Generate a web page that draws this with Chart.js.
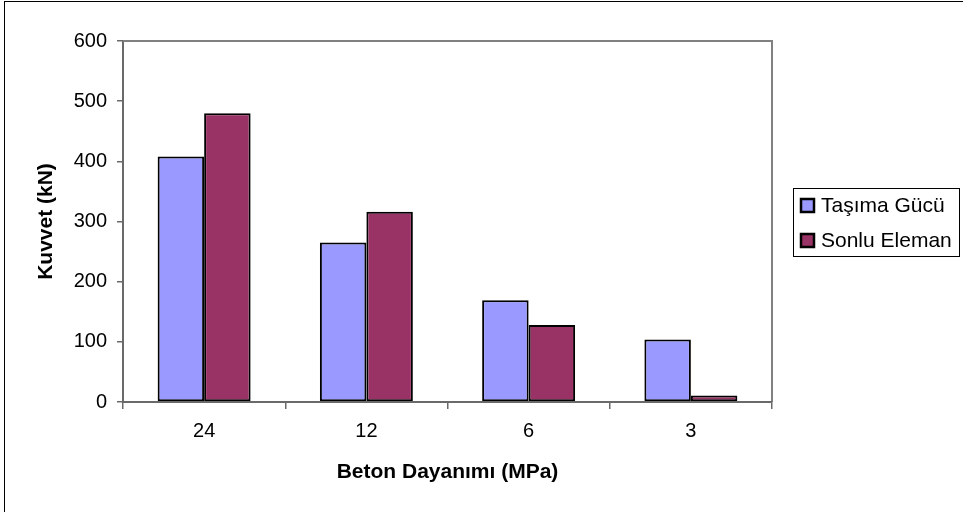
<!DOCTYPE html>
<html>
<head>
<meta charset="utf-8">
<script src="https://cdn.jsdelivr.net/npm/chart.js@4.4.1/dist/chart.umd.min.js"></script>
<style>
  html, body { margin: 0; padding: 0; background: #fff; }
  #wrap { position: relative; width: 963px; height: 512px; overflow: hidden; }
  #frame { position: absolute; left: 4px; top: 1px; width: 1200px; height: 800px; border: 1px solid #000; box-sizing: border-box; }
  #chart { position: absolute; left: 0; top: 0; }
</style>
</head>
<body>
<div id="wrap">
  <div id="frame"></div>
  <canvas id="chart" width="963" height="512"></canvas>
</div>
<script>
// data
const categories = ['24', '12', '6', '3'];
const seriesNames = ['Taşıma Gücü', 'Sonlu Eleman'];
const tasimaGucu = [408, 265, 169, 104];
const sonluEleman = [480, 316, 128, 11];
const yTicks = [0, 100, 200, 300, 400, 500, 600];

const FONT = 'Arial, "Liberation Sans", sans-serif';
const AXIS_GRAY = '#6a6a6a';

// gray top/right edge of the plot area, like the Excel original
const plotFrame = {
  id: 'plotFrame',
  beforeDatasetsDraw(chart) {
    const { ctx, chartArea: a } = chart;
    ctx.save();
    ctx.strokeStyle = '#808080';
    ctx.lineWidth = 2;
    ctx.beginPath();
    ctx.moveTo(a.left, a.top);
    ctx.lineTo(a.right, a.top);
    ctx.lineTo(a.right, a.bottom);
    ctx.stroke();
    ctx.restore();
  }
};

// boxed legend on the right
const boxLegend = {
  id: 'boxLegend',
  afterDraw(chart) {
    const { ctx } = chart;
    const x = 793, y = 188, w = 166, h = 68;
    ctx.save();
    ctx.fillStyle = '#fff';
    ctx.fillRect(x, y, w, h);
    ctx.strokeStyle = '#000';
    ctx.lineWidth = 1;
    ctx.strokeRect(x + 0.5, y + 0.5, w, h);
    chart.data.datasets.forEach((ds, i) => {
      const cy = y + 18 + i * 35;
      ctx.fillStyle = ds.backgroundColor;
      ctx.fillRect(801, cy - 7, 13, 13);
      ctx.lineWidth = 2.5;
      ctx.strokeStyle = '#000';
      ctx.strokeRect(801, cy - 7, 13, 13);
      ctx.fillStyle = '#000';
      ctx.font = '21px ' + FONT;
      ctx.textBaseline = 'middle';
      ctx.fillText(ds.label, 821, cy);
    });
    ctx.restore();
  }
};

new Chart(document.getElementById('chart'), {
  type: 'bar',
  data: {
    labels: categories,
    datasets: [
      { label: seriesNames[0], data: tasimaGucu, backgroundColor: '#9999FF', borderColor: '#000', borderWidth: 2, borderSkipped: false },
      { label: seriesNames[1], data: sonluEleman, backgroundColor: '#993366', borderColor: '#000', borderWidth: 2, borderSkipped: false }
    ]
  },
  options: {
    responsive: false,
    animation: false,
    devicePixelRatio: 1,
    layout: { padding: { top: 41, right: 191, left: 0, bottom: 0 } },
    datasets: {
      bar: { categoryPercentage: 0.573, barPercentage: 1 }
    },
    plugins: {
      legend: { display: false },
      tooltip: { enabled: false }
    },
    scales: {
      x: {
        afterFit: (s) => { s.height = 110; },
        grid: { display: true, drawOnChartArea: false, color: AXIS_GRAY, lineWidth: 1.5, tickLength: 7, offset: true },
        border: { color: AXIS_GRAY, width: 2, z: 1 },
        ticks: { color: '#000', font: { family: FONT, size: 20 }, padding: 10 },
        title: {
          display: true, text: 'Beton Dayanımı (MPa)', color: '#000',
          font: { family: FONT, size: 21, weight: 'bold' }, padding: { top: 0, bottom: 27 }
        }
      },
      y: {
        min: 0, max: 600,
        afterFit: (s) => { s.width = 123; },
        afterBuildTicks: (s) => { s.ticks = yTicks.map(v => ({ value: v })); },
        grid: { display: true, drawOnChartArea: false, color: AXIS_GRAY, lineWidth: 1.5, tickLength: 6 },
        border: { color: AXIS_GRAY, width: 2 },
        ticks: { color: '#000', font: { family: FONT, size: 20 }, padding: 10 },
        title: {
          display: true, text: 'Kuvvet (kN)', color: '#000',
          font: { family: FONT, size: 21, weight: 'bold' }, padding: { top: 34, bottom: 0 }
        }
      }
    }
  },
  plugins: [plotFrame, boxLegend]
});
</script>
</body>
</html>
